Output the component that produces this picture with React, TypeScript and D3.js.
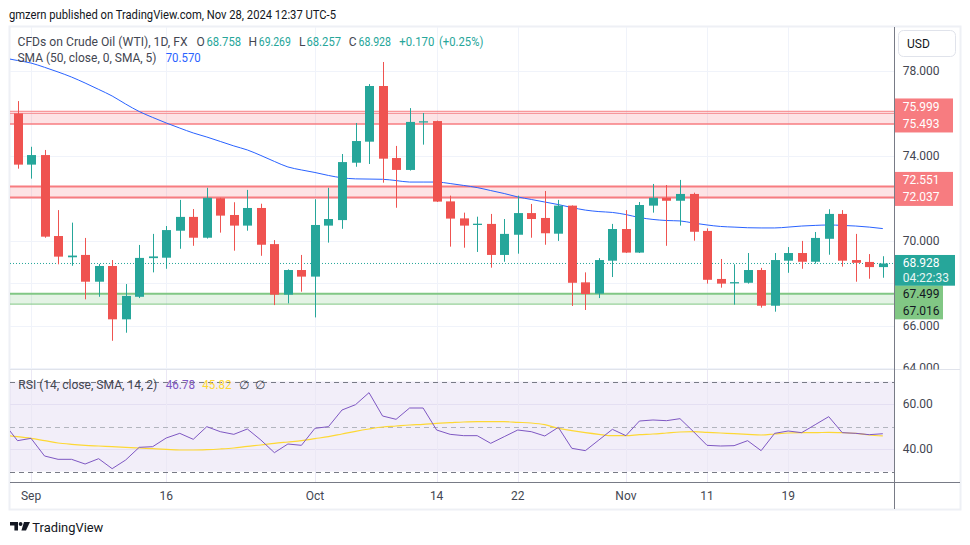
import React from 'react';
import * as d3 from 'd3';

// ---------- DATA ----------
const dates = [
  '2024-08-30',
  '2024-09-02','2024-09-03','2024-09-04','2024-09-05','2024-09-06','2024-09-09','2024-09-10','2024-09-11','2024-09-12','2024-09-13',
  '2024-09-16','2024-09-17','2024-09-18','2024-09-19','2024-09-20','2024-09-23','2024-09-24','2024-09-25','2024-09-26','2024-09-27','2024-09-30',
  '2024-10-01','2024-10-02','2024-10-03','2024-10-04','2024-10-07','2024-10-08','2024-10-09','2024-10-10','2024-10-11',
  '2024-10-14','2024-10-15','2024-10-16','2024-10-17','2024-10-18','2024-10-21','2024-10-22','2024-10-23','2024-10-24','2024-10-25',
  '2024-10-28','2024-10-29','2024-10-30','2024-10-31',
  '2024-11-01','2024-11-04','2024-11-05','2024-11-06','2024-11-07','2024-11-08','2024-11-11','2024-11-12','2024-11-13','2024-11-14','2024-11-15',
  '2024-11-18','2024-11-19','2024-11-20','2024-11-21','2024-11-22','2024-11-25','2024-11-26','2024-11-27','2024-11-28',
];
const opens = [
  75.99,
  73.58,74.03,70.22,69.22,69.33,68.07,68.81,66.30,67.36,69.18,
  69.20,70.47,71.12,70.14,72.00,71.21,70.71,71.54,69.84,67.46,68.62,
  68.31,70.71,70.97,73.67,74.66,77.28,73.89,73.33,75.56,
  75.63,71.85,71.05,70.74,70.79,69.33,70.28,71.30,71.07,70.33,
  71.65,68.04,67.51,69.06,
  70.55,69.44,71.65,72.02,71.88,72.20,70.46,68.20,67.99,68.02,68.62,
  66.94,69.06,69.42,69.01,70.09,71.26,69.09,69.00,68.758,
];
const highs = [
  76.57,
  74.42,74.27,71.44,70.85,70.13,68.90,69.09,67.96,69.80,70.32,
  70.69,71.92,71.49,72.49,72.02,71.81,72.39,71.74,70.03,68.65,69.33,
  71.95,72.49,74.08,75.54,77.37,78.41,74.46,76.24,76.01,
  75.65,72.12,71.32,71.13,71.26,71.02,72.12,71.73,72.34,71.92,
  71.66,68.51,69.18,70.79,
  71.44,71.82,72.67,72.62,72.86,72.26,70.58,69.14,68.89,69.42,68.72,
  69.42,69.70,69.99,70.41,71.48,71.44,70.32,69.37,69.269,
];
const lows = [
  73.39,
  72.92,70.14,68.89,68.82,67.24,67.36,65.29,65.67,67.30,68.51,
  68.68,69.62,69.76,70.10,70.38,69.53,70.47,69.29,66.97,67.05,67.60,
  66.39,69.91,70.56,73.48,73.61,72.73,71.55,73.30,74.52,
  71.82,69.72,69.67,69.47,68.73,69.01,69.39,70.14,69.81,69.99,
  66.93,66.74,67.30,68.29,
  69.42,69.42,71.32,69.76,70.71,70.00,67.98,67.79,66.99,67.98,66.85,
  66.66,68.49,68.68,68.92,69.34,68.78,68.07,68.21,68.257,
];
const closes = [
  73.58,
  74.03,70.19,69.25,69.30,68.07,68.81,66.30,67.40,69.19,69.26,
  70.50,71.12,70.14,72.02,71.18,70.71,71.54,69.81,67.46,68.62,68.31,
  70.74,71.02,73.70,74.69,77.28,73.86,73.33,75.59,75.62,
  71.84,71.04,70.71,70.80,69.33,70.32,71.30,71.02,70.35,71.65,
  68.02,67.49,69.09,70.55,
  69.44,71.68,72.02,71.88,72.20,70.42,68.16,67.98,68.05,68.62,66.94,
  69.09,69.42,69.01,70.13,71.26,69.06,68.96,68.758,68.928,
];
// indicator arrays begin one session earlier (2024-08-29), partly off the left edge
const sma50 = [
  78.60,
  78.48,78.36,78.16,77.94,77.70,77.42,77.12,76.81,76.43,76.08,75.80,
  75.54,75.30,75.07,74.88,74.67,74.46,74.27,74.01,73.73,73.47,73.33,
  73.21,73.07,72.96,72.91,72.90,72.89,72.83,72.76,72.76,
  72.76,72.69,72.60,72.50,72.36,72.22,72.06,71.94,71.82,71.70,
  71.56,71.44,71.37,71.33,
  71.23,71.09,71.00,70.95,70.93,70.83,70.74,70.67,70.64,70.61,70.60,
  70.60,70.64,70.69,70.72,70.74,70.72,70.69,70.64,70.57,
];
const rsi14 = [
  51.4,
  43.70,44.74,36.89,35.41,35.41,33.33,35.70,31.26,35.11,40.74,41.04,
  44.89,46.96,44.30,49.93,47.70,46.52,48.89,44.00,38.37,42.22,41.63,
  49.19,49.93,57.33,59.70,65.04,54.67,53.19,58.22,58.22,
  48.44,46.52,45.93,45.93,42.52,45.48,48.44,47.70,45.78,49.63,
  40.30,39.26,44.00,48.74,
  45.93,52.44,52.89,52.59,53.48,47.70,41.63,41.33,41.48,43.70,39.26,
  46.96,48.00,47.26,50.81,54.37,47.26,46.96,46.37,46.78,
];
const rsiSma14 = [
  46.07,
  45.48,44.74,43.70,42.67,42.07,41.63,41.33,41.04,40.74,40.44,40.15,
  39.85,39.56,39.56,39.70,40.00,40.44,41.19,41.78,42.52,43.11,43.70,
  44.59,45.48,46.67,47.85,48.89,49.78,50.22,50.67,50.96,
  51.41,51.70,52.00,52.15,52.15,52.15,51.85,51.56,50.81,49.19,
  48.15,47.26,46.52,45.93,
  45.93,46.37,46.67,47.11,47.56,47.70,47.41,47.11,46.81,46.52,46.22,
  46.67,47.11,47.26,47.26,47.41,47.26,46.96,46.22,45.82,
];
const zoneTops = [75.999, 72.551, 67.499];
const zoneBottoms = [75.493, 72.037, 67.016];
const zoneKinds = ['resistance', 'resistance', 'support'];
const extraLevels = [76.09];
const priceGridTicks = [64, 66, 68, 70, 72, 74, 76, 78];
const priceLabelTicks = [64, 66, 70, 74, 78];
const rsiLabelTicks = [40, 60];
const timeTickDates = ['2024-09-02', '2024-09-16', '2024-10-01', '2024-10-14', '2024-10-22', '2024-11-01', '2024-11-11', '2024-11-19'];
const timeTickLabels = ['Sep', '16', 'Oct', '14', '22', 'Nov', '11', '19'];
const countdown = '04:22:33';

// ---------- STYLE ----------
const UP = '#26a69a';
const DOWN = '#ef5350';
const RES = '#f77c80';
const SUP = '#81c784';
const FONT = "Roboto, 'Liberation Sans', Arial, sans-serif";
const TXT = '#131722';
const GRID = '#f0f3fa';

const L = 10, R = 894.5;
const MAIN_T = 27, MAIN_B = 369.5;
const RSI_T = 370, RSI_B = 482.5;

export default function App() {
  const n = dates.length;
  const x = d3.scaleLinear().domain([0, n - 1]).range([17.5, 882.8]);
  const y = d3.scaleLinear().domain([64, 78]).range([368.2, 70.7]);
  const yr = d3.scaleLinear().domain([30, 70]).range([471.5, 381.5]);
  const fmt = d3.format('.3f');
  const fmt2 = d3.format('.2f');

  const smaLine = d3.line<number>().x((_, i) => x(i - 1)).y((d) => y(d)).curve(d3.curveMonotoneX);
  const rsiLine = d3.line<number>().x((_, i) => x(i - 1)).y((d) => yr(d));
  const rsiSmaLine = d3.line<number>().x((_, i) => x(i - 1)).y((d) => yr(d)).curve(d3.curveMonotoneX);

  const tickIdx = timeTickDates.map((d) => dates.indexOf(d));
  const last = n - 1;
  const lastClose = closes[last];
  const lastUp = lastClose >= opens[last];
  const change = lastClose - closes[last - 1];
  const changePct = (change / closes[last - 1]) * 100;
  const bw = 9;

  const zoneStroke = [
    [1, 1.5],
    [2, 2],
    [2, 1],
  ];

  return (
    <svg
      width={970}
      height={545}
      style={{ position: 'fixed', left: 0, top: 0, background: '#fff', fontFamily: FONT }}
    >
      <defs>
        <clipPath id="mainClip">
          <rect x={L} y={MAIN_T} width={R - L} height={MAIN_B - MAIN_T} />
        </clipPath>
        <clipPath id="rsiClip">
          <rect x={L} y={RSI_T} width={R - L} height={RSI_B - RSI_T} />
        </clipPath>
        <clipPath id="axisClip">
          <rect x={R} y={MAIN_T} width={970 - R} height={MAIN_B - MAIN_T} />
        </clipPath>
      </defs>
      <rect x={0} y={0} width={970} height={545} fill="#fff" />

      {/* header */}
      <text x={9} y={14} dominantBaseline="central" fontSize={13} fill={TXT} textLength={327} lengthAdjust="spacingAndGlyphs">
        gmzern published on TradingView.com, Nov 28, 2024 12:37 UTC-5
      </text>

      {/* frame */}
      <rect x={9.5} y={26.5} width={951} height={483} fill="none" stroke="#eef0f5" strokeWidth={2} />

      {/* main pane */}
      <g clipPath="url(#mainClip)">
        {priceGridTicks.map((t) => (
          <line key={'hg' + t} x1={L} x2={R} y1={Math.round(y(t)) + 0.5} y2={Math.round(y(t)) + 0.5} stroke={GRID} />
        ))}
        {tickIdx.map((i) => (
          <line key={'vg' + i} x1={Math.round(x(i)) + 0.5} x2={Math.round(x(i)) + 0.5} y1={MAIN_T} y2={MAIN_B} stroke={GRID} />
        ))}
        {zoneTops.map((top, k) => {
          const c = zoneKinds[k] === 'support' ? SUP : RES;
          const fill = zoneKinds[k] === 'support' ? 'rgba(76,175,80,0.15)' : 'rgba(242,54,69,0.14)';
          const y1 = y(top), y2 = y(zoneBottoms[k]);
          return (
            <g key={'z' + k}>
              <rect x={L} y={y1} width={R - L} height={y2 - y1} fill={fill} />
              <line x1={L} x2={R} y1={y1} y2={y1} stroke={c} strokeWidth={zoneStroke[k][0]} />
              <line x1={L} x2={R} y1={y2} y2={y2} stroke={c} strokeWidth={zoneStroke[k][1]} />
            </g>
          );
        })}
        {extraLevels.map((lv) => (
          <line key={'ex' + lv} x1={L} x2={R} y1={y(lv)} y2={y(lv)} stroke={RES} strokeWidth={1} />
        ))}
        <line x1={L} x2={R} y1={y(lastClose)} y2={y(lastClose)} stroke={UP} strokeDasharray="1 2" />
        <path d={smaLine(sma50) || ''} fill="none" stroke="#2962ff" strokeWidth={1} />
        {dates.map((d, i) => {
          const o = opens[i], c = closes[i];
          const up = c >= o;
          const col = up ? UP : DOWN;
          const cx = Math.round(x(i));
          const top = y(Math.max(o, c));
          const h = Math.max(1, y(Math.min(o, c)) - top);
          return (
            <g key={d}>
              <line x1={cx + 0.5} x2={cx + 0.5} y1={y(highs[i])} y2={y(lows[i])} stroke={col} />
              <rect x={cx - 4} y={top} width={bw} height={h} fill={col} />
            </g>
          );
        })}
      </g>

      {/* legend */}
      <g fontSize={12} dominantBaseline="central">
        <text x={17.5} y={42} fill="#434651" textLength={170} lengthAdjust="spacingAndGlyphs">CFDs on Crude Oil (WTI), 1D, FX</text>
        <text x={196.5} y={42} fill="#434651">O</text>
        <text x={206.5} y={42} fill={UP} textLength={34.5} lengthAdjust="spacingAndGlyphs">{fmt(opens[last])}</text>
        <text x={248.5} y={42} fill="#434651">H</text>
        <text x={258.8} y={42} fill={UP} textLength={32} lengthAdjust="spacingAndGlyphs">{fmt(highs[last])}</text>
        <text x={299} y={42} fill="#434651">L</text>
        <text x={306.5} y={42} fill={UP} textLength={34.5} lengthAdjust="spacingAndGlyphs">{fmt(lows[last])}</text>
        <text x={348.8} y={42} fill="#434651">C</text>
        <text x={358.5} y={42} fill={UP} textLength={32.5} lengthAdjust="spacingAndGlyphs">{fmt(lastClose)}</text>
        <text x={399.3} y={42} fill={UP} textLength={35} lengthAdjust="spacingAndGlyphs">
          {(change >= 0 ? '+' : '') + fmt(change)}
        </text>
        <text x={439} y={42} fill={UP} textLength={44.3} lengthAdjust="spacingAndGlyphs">
          {'(' + (changePct >= 0 ? '+' : '') + fmt2(changePct) + '%)'}
        </text>
        <text x={17.5} y={58} fill="#434651" textLength={139} lengthAdjust="spacingAndGlyphs">SMA (50, close, 0, SMA, 5)</text>
        <text x={165.7} y={58} fill="#2962ff" textLength={35} lengthAdjust="spacingAndGlyphs">{fmt(sma50[sma50.length - 1])}</text>
      </g>

      {/* pane separator */}
      <line x1={L} x2={960} y1={MAIN_B} y2={MAIN_B} stroke="#e0e3eb" />

      {/* RSI pane */}
      <g clipPath="url(#rsiClip)">
        <rect x={L} y={yr(70)} width={R - L} height={yr(30) - yr(70)} fill="rgba(126,87,194,0.1)" />
        {rsiLabelTicks.map((t) => (
          <line key={'rg' + t} x1={L} x2={R} y1={Math.round(yr(t)) + 0.5} y2={Math.round(yr(t)) + 0.5} stroke="#e4dff2" />
        ))}
        {tickIdx.map((i) => (
          <line key={'rvg' + i} x1={Math.round(x(i)) + 0.5} x2={Math.round(x(i)) + 0.5} y1={RSI_T} y2={RSI_B} stroke="#ebe8f5" />
        ))}
        <line x1={L} x2={R} y1={Math.round(yr(70)) + 0.5} y2={Math.round(yr(70)) + 0.5} stroke="#787b86" strokeDasharray="5 4" />
        <line x1={L} x2={R} y1={Math.round(yr(50)) + 0.5} y2={Math.round(yr(50)) + 0.5} stroke="#b2b5be" strokeDasharray="5 4" />
        <line x1={L} x2={R} y1={Math.round(yr(30)) + 0.5} y2={Math.round(yr(30)) + 0.5} stroke="#787b86" strokeDasharray="5 4" />
        <path d={rsiSmaLine(rsiSma14) || ''} fill="none" stroke="#fdd835" strokeWidth={1.2} />
        <path d={rsiLine(rsi14) || ''} fill="none" stroke="#7e57c2" strokeWidth={1} />
      </g>
      <g fontSize={12} dominantBaseline="central">
        <text x={18.3} y={385} fill="#434651" textLength={139} lengthAdjust="spacingAndGlyphs">RSI (14, close, SMA, 14, 2)</text>
        <text x={165.7} y={385} fill="#7e57c2" textLength={29.3} lengthAdjust="spacingAndGlyphs">{fmt2(rsi14[rsi14.length - 1])}</text>
        <text x={202.3} y={385} fill="#fdd835" textLength={29.3} lengthAdjust="spacingAndGlyphs">{fmt2(rsiSma14[rsiSma14.length - 1])}</text>
        <text x={239.3} y={385} fill="#434651">∅</text>
        <text x={255} y={385} fill="#434651">∅</text>
      </g>

      {/* axes lines */}
      <line x1={L} x2={960} y1={RSI_B} y2={RSI_B} stroke="#787b86" />
      <line x1={R} x2={R} y1={MAIN_T} y2={509} stroke="#787b86" />

      {/* price axis */}
      <rect x={898.5} y={30.5} width={57} height={26} rx={5} fill="#fff" stroke="#e0e3eb" />
      <text x={907} y={44} fontSize={12} fill={TXT} dominantBaseline="central">USD</text>
      <g clipPath="url(#axisClip)" fontSize={12} fill="#434651" dominantBaseline="central">
        {priceLabelTicks.map((t) => (
          <text key={'pl' + t} x={902.7} y={y(t)}>{fmt(t)}</text>
        ))}
      </g>
      {rsiLabelTicks.map((t) => (
        <text key={'rl' + t} x={902.7} y={yr(t)} fontSize={12} fill="#434651" dominantBaseline="central">{fmt2(t)}</text>
      ))}

      {/* price badges */}
      {zoneTops.map((top, k) => {
        const sup = zoneKinds[k] === 'support';
        const anchorY = sup ? y(top) : y(zoneBottoms[k]);
        const ys = sup ? [anchorY, anchorY + 17] : [anchorY - 17, anchorY];
        return (
          <g key={'b' + k}>
            <rect x={R + 0.5} y={ys[0] - 8.5} width={sup ? 48 : 58} height={34} fill={sup ? SUP : RES} />
            <text x={902.7} y={ys[0]} fontSize={12} fill={sup ? TXT : '#fff'} dominantBaseline="central">{fmt(top)}</text>
            <text x={902.7} y={ys[1]} fontSize={12} fill={sup ? TXT : '#fff'} dominantBaseline="central">{fmt(zoneBottoms[k])}</text>
          </g>
        );
      })}
      <rect x={R + 0.5} y={y(lastClose) - 8.5} width={60} height={30.7} fill={lastUp ? UP : DOWN} />
      <text x={902.7} y={y(lastClose)} fontSize={12} fill="#fff" dominantBaseline="central">{fmt(lastClose)}</text>
      <text x={902.7} y={y(lastClose) + 14.6} fontSize={12} fill="#e6f5f3" dominantBaseline="central">{countdown}</text>

      {/* time axis */}
      {tickIdx.map((i, k) => (
        <text key={'tl' + k} x={x(i)} y={496} fontSize={12} fill="#434651" textAnchor="middle" dominantBaseline="central">
          {timeTickLabels[k]}
        </text>
      ))}

      {/* logo */}
      <g fill={TXT}>
        <path d="M10 522 h8 v8.5 h-3.6 v-5 h-4.4 z" />
        <circle cx={20.6} cy={524} r={1.9} />
        <path d="M24 522 h6 l-4 8.5 h-4.6 z" />
      </g>
      <text x={32.3} y={527} fontSize={13} fill={TXT} dominantBaseline="central" textLength={71} lengthAdjust="spacingAndGlyphs">TradingView</text>
    </svg>
  );
}
